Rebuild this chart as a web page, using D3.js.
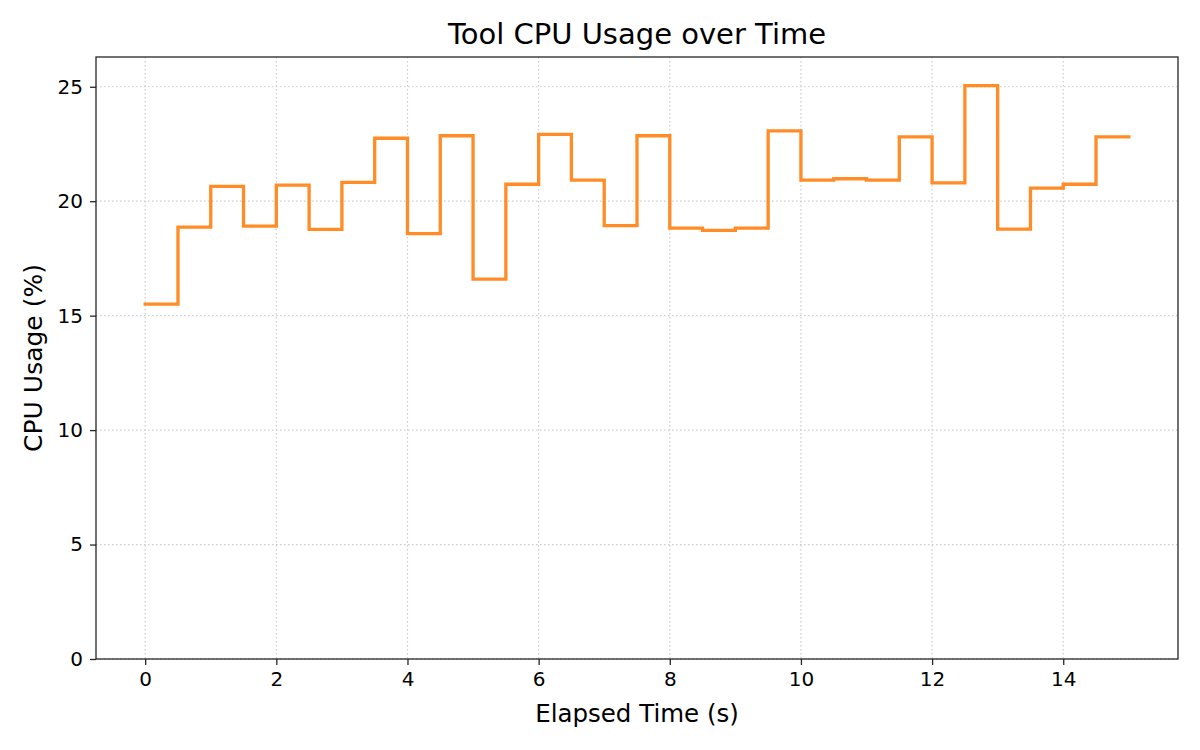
<!DOCTYPE html>
<html>
<head>
<meta charset="utf-8">
<script src="https://cdn.jsdelivr.net/npm/d3@7"></script>
<style>
  html, body { margin: 0; padding: 0; background: #fff; }
  svg { display: block; font-family: "DejaVu Sans", sans-serif; }
</style>
</head>
<body>
<div id="chart"></div>
<script>
  // Elapsed time (s) for each sample
  const times = [0, 0.5, 1, 1.5, 2, 2.5, 3, 3.5, 4, 4.5, 5, 5.5, 6, 6.5, 7, 7.5,
    8, 8.5, 9, 9.5, 10, 10.5, 11, 11.5, 12, 12.5, 13, 13.5, 14, 14.5, 15];
  // CPU usage (%)
  const cpuUsage = [15.5, 18.87, 20.65, 18.91, 20.7, 18.77, 20.82, 22.75, 18.58, 22.86,
    16.6, 20.74, 22.92, 20.92, 18.93, 22.86, 18.82, 18.73, 18.82, 23.07,
    20.92, 20.98, 20.92, 22.81, 20.8, 25.05, 18.78, 20.57, 20.74, 22.81, 22.81];
  const xTicks = [0, 2, 4, 6, 8, 10, 12, 14];
  const yTicks = [0, 5, 10, 15, 20, 25];

  const W = 1200, H = 750;
  const margin = { top: 57, right: 22, bottom: 91, left: 96 };
  const width = W - margin.left - margin.right;
  const height = H - margin.top - margin.bottom;
  const lineColour = "#ff8c26";

  const data = times.map((t, i) => ({ t: t, v: cpuUsage[i] }));

  const svg = d3.select("#chart").append("svg")
    .attr("width", W).attr("height", H);

  const g = svg.append("g")
    .attr("transform", `translate(${margin.left},${margin.top})`);

  const x = d3.scaleLinear().domain([-0.75, 15.75]).range([0, width]);
  const y = d3.scaleLinear().domain([0, 26.3]).range([height, 0]);

  // grid
  g.append("g").selectAll("line").data(xTicks).enter().append("line")
    .attr("x1", d => x(d)).attr("x2", d => x(d))
    .attr("y1", 0).attr("y2", height)
    .attr("stroke", "#cccccc").attr("stroke-width", 1.2)
    .attr("stroke-dasharray", "1.5 2.5");
  g.append("g").selectAll("line").data(yTicks).enter().append("line")
    .attr("x1", 0).attr("x2", width)
    .attr("y1", d => y(d)).attr("y2", d => y(d))
    .attr("stroke", "#cccccc").attr("stroke-width", 1.2)
    .attr("stroke-dasharray", "1.5 2.5");

  // step line
  g.append("path")
    .datum(data)
    .attr("fill", "none")
    .attr("stroke", lineColour)
    .attr("stroke-width", 3.3)
    .attr("stroke-linejoin", "miter")
    .attr("stroke-linecap", "square")
    .attr("d", d3.line().curve(d3.curveStepAfter).x(d => x(d.t)).y(d => y(d.v)));

  // axes
  const xAxis = g.append("g")
    .attr("transform", `translate(0,${height})`)
    .call(d3.axisBottom(x).tickValues(xTicks).tickSize(6).tickPadding(7).tickSizeOuter(0));
  const yAxis = g.append("g")
    .call(d3.axisLeft(y).tickValues(yTicks).tickSize(6).tickPadding(7).tickSizeOuter(0));

  [xAxis, yAxis].forEach(a => {
    a.select(".domain").remove();
    a.selectAll(".tick line").attr("stroke", "#262626").attr("stroke-width", 1.3);
    a.selectAll(".tick text").attr("fill", "#000").style("font-size", "20px")
      .style("font-family", "DejaVu Sans");
  });

  // frame
  g.append("rect")
    .attr("x", 0).attr("y", 0).attr("width", width).attr("height", height)
    .attr("fill", "none").attr("stroke", "#262626").attr("stroke-width", 1.3);

  // labels
  svg.append("text")
    .attr("x", margin.left + width / 2).attr("y", 44)
    .attr("text-anchor", "middle")
    .style("font-size", "29px")
    .text("Tool CPU Usage over Time");

  svg.append("text")
    .attr("x", margin.left + width / 2).attr("y", 722)
    .attr("text-anchor", "middle")
    .style("font-size", "24.5px")
    .text("Elapsed Time (s)");

  svg.append("text")
    .attr("transform", `translate(42,${margin.top + height / 2}) rotate(-90)`)
    .attr("text-anchor", "middle")
    .style("font-size", "25px")
    .text("CPU Usage (%)");
</script>
</body>
</html>
